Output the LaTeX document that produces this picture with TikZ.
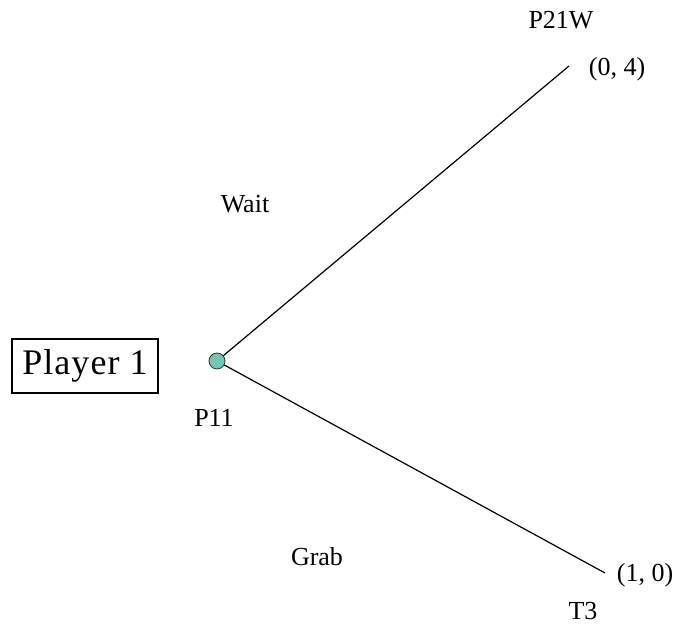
\documentclass[tikz,border=0pt]{standalone}
\usepackage{fontspec}
\setmainfont{Liberation Serif}
\begin{document}
\begin{tikzpicture}[x=1pt,y=1pt,
  lbl/.style={anchor=base,inner sep=0pt,font=\fontsize{26}{28}\selectfont},
  branch/.style={draw=black,line width=1.2pt},
  decision/.style={circle,draw=black!80,line width=0.8pt,fill={rgb,255:red,110;green,200;blue,180},minimum size=16pt,inner sep=0pt}]
\useasboundingbox (0,0) rectangle (675,628);
\node[draw=black,line width=1.2pt,minimum width=146pt,minimum height=54pt,inner sep=0pt,font=\fontsize{36}{40}\selectfont\addfontfeature{LetterSpace=3}] (player) at (85,262) {Player 1};
\node[decision] (p11) at (217,267) {};
\coordinate (top) at (569,562);
\coordinate (bot) at (605,55);
\draw[branch] (p11) -- (top);
\draw[branch] (p11) -- (bot);
\node[lbl] (p21w) at (561,599) {P21W};
\node[lbl] (pay1) at (617,552) {(0, 4)};
\node[lbl] (wait) at (245,415) {Wait};
\node[lbl] (p11l) at (214,201) {P11};
\node[lbl] (grab) at (317,62) {Grab};
\node[lbl] (pay2) at (645,46) {(1, 0)};
\node[lbl] (t3) at (583,8) {T3};
\end{tikzpicture}
\end{document}
